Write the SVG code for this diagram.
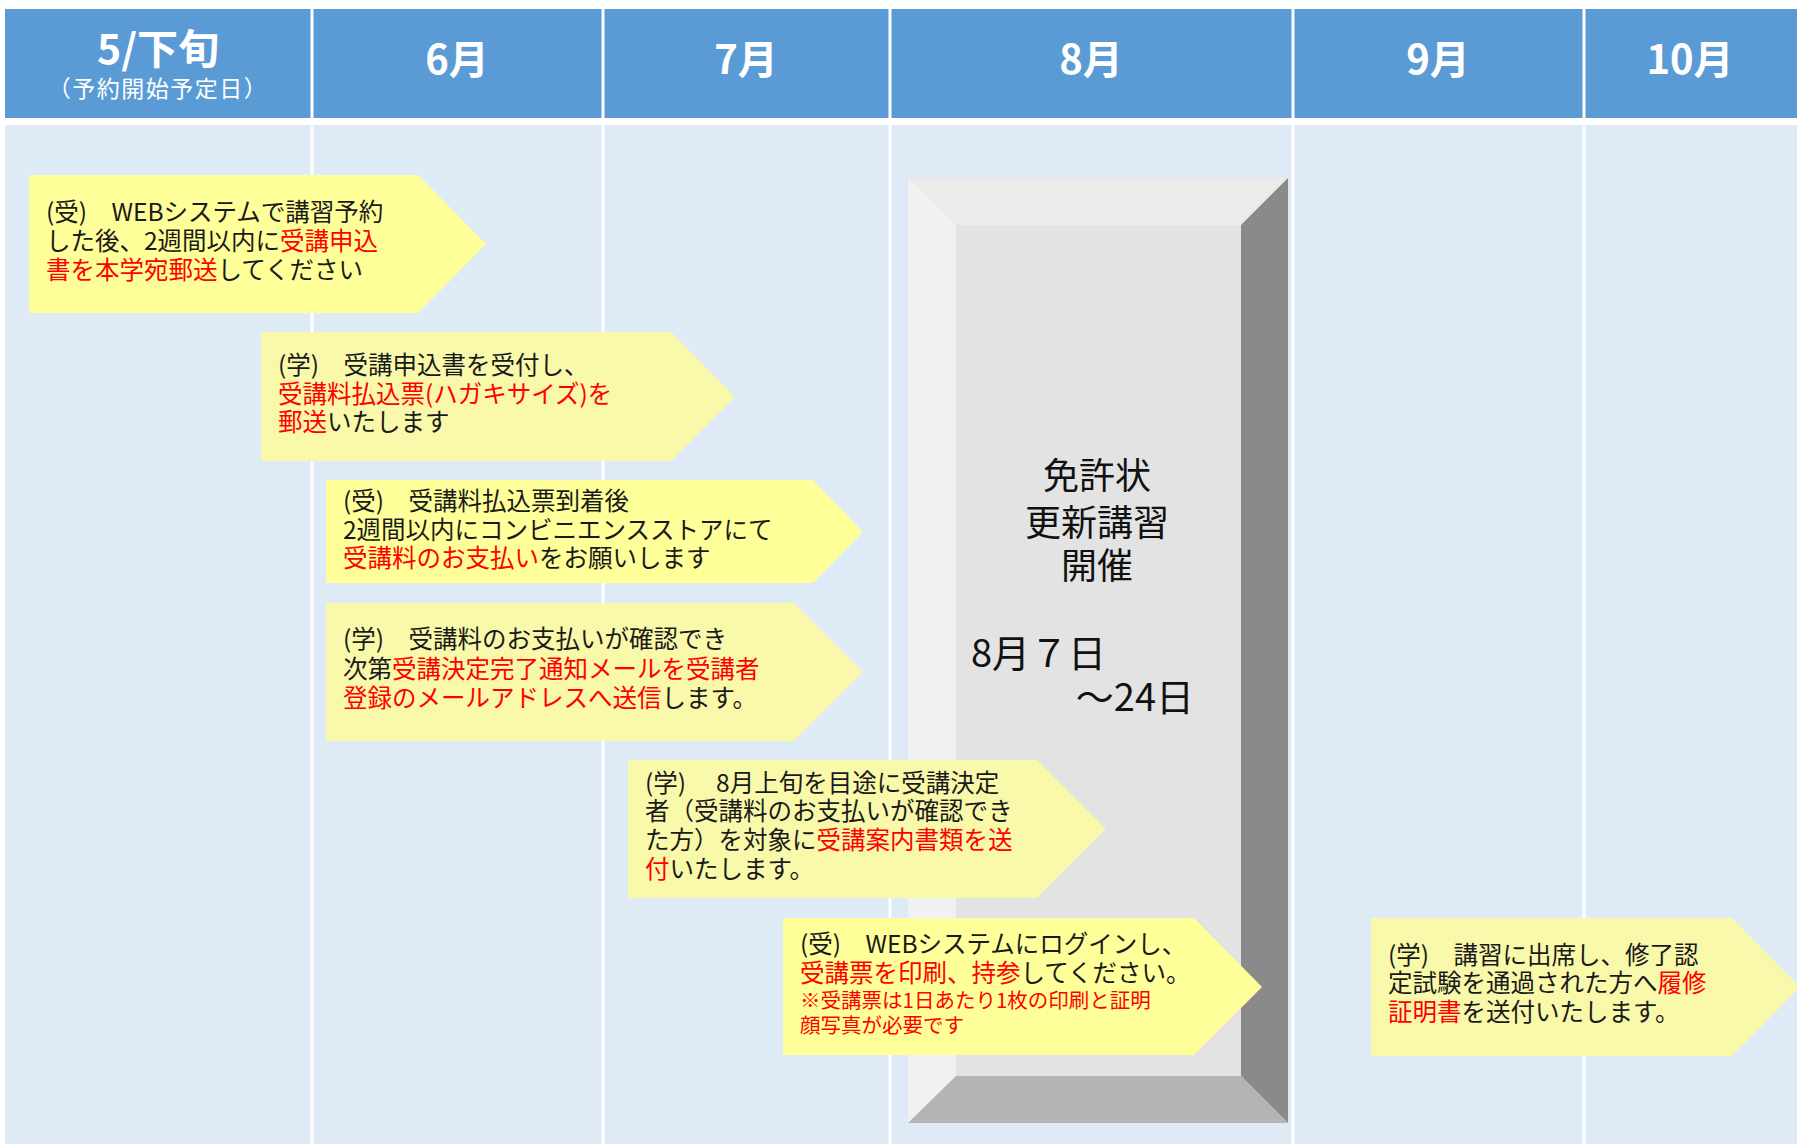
<svg xmlns="http://www.w3.org/2000/svg" width="1797" height="1144" viewBox="0 0 1797 1144">
<defs>
<pattern id="dither" width="2" height="2" patternUnits="userSpaceOnUse">
<rect width="2" height="2" fill="#fbfb9e"/>
<rect x="0" y="0" width="1" height="1" fill="#f6f6b6"/>
<rect x="1" y="1" width="1" height="1" fill="#f6f6b6"/>
</pattern>
<style>
.hd{font-family:"Noto Sans CJK JP","Noto Sans",sans-serif;fill:#ffffff;font-weight:700;text-anchor:middle}
.tx{font-family:"Noto Sans CJK JP","Noto Sans",sans-serif;font-size:24.5px;fill:#1a1a1a}
.sm{font-size:20.5px;fill:#ff0000}
.r{fill:#ff0000}
.solid{fill:#ffff99}
.pat{fill:url(#dither)}
.big{font-family:"Noto Sans CJK JP","Noto Sans",sans-serif;fill:#111111}
.sep{stroke:#ffffff;stroke-width:3}
</style>
</defs>
<rect width="1797" height="1144" fill="#ffffff"/>
<g id="background">
<rect x="5" y="9" width="1792" height="109" fill="#5b9bd5"/>
<rect x="5" y="125" width="1792" height="1019" fill="#deeaf6"/>
<g class="sep">
<line x1="312" y1="9" x2="312" y2="1144"/>
<line x1="603" y1="9" x2="603" y2="1144"/>
<line x1="890" y1="9" x2="890" y2="1144"/>
<line x1="1293" y1="9" x2="1293" y2="1144"/>
<line x1="1584" y1="9" x2="1584" y2="1144"/>
</g>
</g>
<g id="header">
<text class="hd" x="158" y="64" font-size="41">5/下旬<tspan x="158" y="97" font-size="23" font-weight="400" letter-spacing="1.5">（予約開始予定日）</tspan></text>
<text class="hd" x="457" y="74" font-size="40">6月</text>
<text class="hd" x="746" y="74" font-size="40">7月</text>
<text class="hd" x="1091" y="74" font-size="40">8月</text>
<text class="hd" x="1438" y="74" font-size="40">9月</text>
<text class="hd" x="1690" y="74" font-size="40">10月</text>
</g>
<g id="session">
<polygon points="908,178 1288,178 1241,225 956,225" fill="#ebebeb"/>
<polygon points="908,178 956,225 956,1076 908,1123" fill="#f1f1f1"/>
<polygon points="1288,178 1288,1123 1241,1076 1241,225" fill="#8a8a8a"/>
<polygon points="908,1123 956,1076 1241,1076 1288,1123" fill="#b4b4b4"/>
<rect x="956" y="225" width="285" height="851" fill="#e3e3e3"/>
<text class="big" font-size="36" text-anchor="middle"><tspan x="1097" y="489">免許状</tspan><tspan x="1097" y="536">更新講習</tspan><tspan x="1097" y="579">開催</tspan></text>
<text class="big" font-size="38"><tspan x="971" y="667">8月７日</tspan><tspan x="1194" y="711" text-anchor="end">～24日</tspan></text>
</g>
<g id="step1">
<polygon class="solid" points="29,175 418,175 486,244 418,313 29,313"/>
<text class="tx"><tspan x="46" y="221">(受)　WEBシステムで講習予約</tspan><tspan x="46" y="250">した後、2週間以内に<tspan class="r">受講申込</tspan></tspan><tspan x="46" y="279"><tspan class="r">書を本学宛郵送</tspan>してください</tspan></text>
</g>
<g id="step2">
<polygon class="pat" points="261,332 671,332 735,397 671,461 261,461"/>
<text class="tx"><tspan x="278" y="374">(学)　受講申込書を受付し、</tspan><tspan x="278" y="403" class="r">受講料払込票(ハガキサイズ)を</tspan><tspan x="278" y="431"><tspan class="r">郵送</tspan>いたします</tspan></text>
</g>
<g id="step3">
<polygon class="solid" points="326,480 813,480 863,532 813,583 326,583"/>
<text class="tx"><tspan x="343" y="510">(受)　受講料払込票到着後</tspan><tspan x="343" y="539">2週間以内にコンビニエンスストアにて</tspan><tspan x="343" y="567"><tspan class="r">受講料のお支払い</tspan>をお願いします</tspan></text>
</g>
<g id="step4">
<polygon class="pat" points="326,603 794,603 863,672 794,741 326,741"/>
<text class="tx"><tspan x="343" y="648">(学)　受講料のお支払いが確認でき</tspan><tspan x="343" y="678">次第<tspan class="r">受講決定完了通知メールを受講者</tspan></tspan><tspan x="343" y="707"><tspan class="r">登録のメールアドレスへ送信</tspan>します。</tspan></text>
</g>
<g id="step5">
<polygon class="pat" points="628,760 1037,760 1106,829 1037,898 628,898"/>
<text class="tx"><tspan x="645" y="792">(学)　 8月上旬を目途に受講決定</tspan><tspan x="645" y="820">者（受講料のお支払いが確認でき</tspan><tspan x="645" y="849">た方）を対象に<tspan class="r">受講案内書類を送</tspan></tspan><tspan x="645" y="878"><tspan class="r">付</tspan>いたします。</tspan></text>
</g>
<g id="step6">
<polygon class="solid" points="783,918 1194,918 1262,987 1194,1055 783,1055"/>
<text class="tx"><tspan x="800" y="953">(受)　WEBシステムにログインし、</tspan><tspan x="800" y="982"><tspan class="r">受講票を印刷、持参</tspan>してください。</tspan><tspan x="800" y="1008" class="sm">※受講票は1日あたり1枚の印刷と証明</tspan><tspan x="800" y="1033" class="sm">顔写真が必要です</tspan></text>
</g>
<g id="step7">
<polygon class="pat" points="1371,918 1732,918 1800,987 1732,1056 1371,1056"/>
<text class="tx"><tspan x="1388" y="964">(学)　講習に出席し、修了認</tspan><tspan x="1388" y="992">定試験を通過された方へ<tspan class="r">履修</tspan></tspan><tspan x="1388" y="1021"><tspan class="r">証明書</tspan>を送付いたします。</tspan></text>
</g>
<g id="connectors"/>
</svg>
